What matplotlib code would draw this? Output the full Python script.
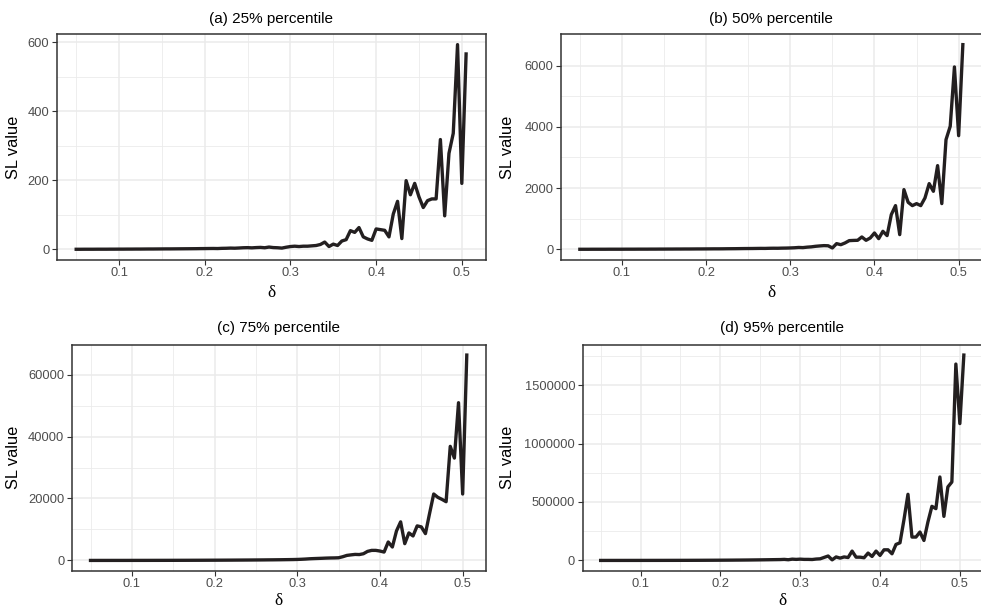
import matplotlib
matplotlib.use("Agg")
import matplotlib.pyplot as plt
import numpy as np

plt.rcParams['font.family'] = ['Liberation Sans', 'DejaVu Sans']

delta = [0.050, 0.055, 0.060, 0.065, 0.070, 0.075, 0.080, 0.085, 0.090, 0.095,
         0.100, 0.105, 0.110, 0.115, 0.120, 0.125, 0.130, 0.135, 0.140, 0.145,
         0.150, 0.155, 0.160, 0.165, 0.170, 0.175, 0.180, 0.185, 0.190, 0.195,
         0.200, 0.205, 0.210, 0.215, 0.220, 0.225, 0.230, 0.235, 0.240, 0.245,
         0.250, 0.255, 0.260, 0.265, 0.270, 0.275, 0.280, 0.285, 0.290, 0.295,
         0.300, 0.305, 0.310, 0.315, 0.320, 0.325, 0.330, 0.335, 0.340, 0.345,
         0.350, 0.355, 0.360, 0.365, 0.370, 0.375, 0.380, 0.385, 0.390, 0.395,
         0.400, 0.405, 0.410, 0.415, 0.420, 0.425, 0.430, 0.435, 0.440, 0.445,
         0.450, 0.455, 0.460, 0.465, 0.470, 0.475, 0.480, 0.485, 0.490, 0.495,
         0.500, 0.505]

sl_p25 = [0.1, 0.1, 0.2, 0.2, 0.2, 0.3, 0.3, 0.3, 0.4, 0.4,
          0.5, 0.5, 0.6, 0.6, 0.7, 0.7, 0.8, 0.9, 0.9, 1.0,
          1.1, 1.2, 1.2, 1.3, 1.4, 1.5, 1.6, 1.7, 1.8, 2.0,
          2.1, 2.3, 2.4, 2.2, 2.8, 3.0, 3.5, 3.2, 3.8, 4.5,
          4.8, 4.2, 5.0, 5.5, 4.5, 6.5, 5.0, 4.5, 3.5, 6.0,
          8, 9, 8, 9, 9, 10, 11, 14, 21, 8,
          15, 11, 24, 28, 54, 49, 63, 36, 30, 26,
          59, 57, 55, 36, 102, 139, 31, 199, 158, 191,
          152, 121, 141, 146, 146, 318, 97, 278, 336, 593,
          191, 566]

sl_p50 = [1, 1, 1, 2, 2, 2, 2, 3, 3, 3,
          3, 4, 4, 4, 5, 5, 5, 6, 6, 7,
          7, 8, 8, 9, 9, 10, 10, 11, 12, 12,
          13, 14, 15, 15, 16, 18, 19, 20, 22, 24,
          25, 26, 28, 30, 29, 33, 35, 34, 38, 40,
          44, 50, 60, 55, 70, 80, 98, 110, 120, 115,
          44, 185, 150, 207, 283, 290, 294, 403, 294, 370,
          533, 348, 588, 447, 1133, 1427, 479, 1950, 1535, 1427,
          1492, 1427, 1677, 2145, 1895, 2734, 1492, 3583, 4019, 5957,
          3713, 6686]

sl_p75 = [5, 6, 7, 8, 9, 10, 11, 12, 13, 14,
          16, 18, 19, 21, 23, 25, 27, 30, 32, 35,
          38, 41, 45, 48, 52, 56, 60, 65, 70, 75,
          80, 86, 92, 98, 105, 112, 120, 128, 136, 145,
          155, 165, 175, 190, 200, 215, 230, 250, 270, 290,
          325, 380, 450, 542, 600, 650, 700, 758, 800, 820,
          867, 1200, 1625, 1800, 1950, 1900, 2167, 2925, 3250, 3250,
          3033, 2708, 5958, 4333, 9533, 12458, 5417, 8883, 7908, 11158,
          10833, 8667, 15167, 21450, 20367, 19717, 18958, 36833, 33042, 50917,
          21450, 66300]

sl_p95 = [100, 120, 130, 150, 170, 190, 210, 230, 260, 290,
          320, 350, 390, 430, 470, 520, 570, 630, 690, 760,
          830, 910, 1000, 1100, 1200, 1300, 1450, 1600, 1750, 1900,
          2100, 2300, 2500, 2700, 3000, 3200, 3500, 3800, 4200, 4600,
          5000, 5500, 6000, 6500, 7000, 7500, 9000, 6000, 11000, 9000,
          11000, 9000, 9000, 8000, 12000, 14000, 26000, 38000, 5000, 30000,
          20000, 30000, 25000, 80000, 28000, 28000, 23000, 63000, 34000, 80000,
          43000, 91000, 91000, 57000, 137000, 151000, 349000, 566000, 200000, 200000,
          243000, 171000, 329000, 463000, 443000, 714000, 377000, 629000, 671000, 1680000,
          1171000, 1757000]

titles = ["(a) 25% percentile", "(b) 50% percentile",
          "(c) 75% percentile", "(d) 95% percentile"]
series = [sl_p25, sl_p50, sl_p75, sl_p95]
yticks = [[0, 200, 400, 600], [0, 2000, 4000, 6000],
          [0, 20000, 40000, 60000], [0, 500000, 1000000, 1500000]]
yminor = [[100, 300, 500], [1000, 3000, 5000],
          [10000, 30000, 50000], [250000, 750000, 1250000, 1750000]]
xticks = [0.1, 0.2, 0.3, 0.4, 0.5]
xminor = [0.05, 0.15, 0.25, 0.35, 0.45]

W, H = 981, 612
fig = plt.figure(figsize=(W / 100, H / 100), dpi=100)

# pixel boxes: left, top, right, bottom
boxes = [(56.7, 34.4, 485.6, 259.5),
         (560.7, 34.4, 982.0, 259.5),
         (71.7, 344.8, 485.6, 570.7),
         (582.5, 344.8, 982.0, 570.7)]
title_base = [22.7, 22.7, 332.0, 332.0]
xlab_y = [292.5, 292.5, 601.0, 601.0]
ylab_x = [13.0, 508.0, 13.0, 508.0]

border = '#333333'
gridc = '#EBEBEB'
linec = '#231F20'

for i in range(4):
    l, t, r, b = boxes[i]
    ax = fig.add_axes([l / W, 1 - b / H, (r - l) / W, (b - t) / H])
    y = np.array(series[i], dtype=float)
    x = np.array(delta)
    ax.plot(x, y, color=linec, lw=2.4, solid_joinstyle='round', zorder=3)
    xr = x.max() - x.min()
    yr = y.max() - y.min()
    ax.set_xlim(x.min() - 0.05 * xr, x.max() + 0.05 * xr)
    ax.set_ylim(y.min() - 0.05 * yr, y.max() + 0.05 * yr)
    ax.set_xticks(xticks)
    ax.set_xticklabels([f"{v:g}" for v in xticks])
    ax.set_yticks(yticks[i])
    ax.set_yticklabels([str(v) for v in yticks[i]])
    ax.set_xticks(xminor, minor=True)
    ax.set_yticks(yminor[i], minor=True)
    ax.grid(True, which='major', color=gridc, lw=1.1, zorder=0)
    ax.grid(True, which='minor', color=gridc, lw=0.6, zorder=0)
    ax.set_axisbelow(True)
    ax.tick_params(which='major', length=3.3, width=0.8, color=border,
                   labelsize=9.3, labelcolor='#4D4D4D', pad=2.0)
    ax.tick_params(which='minor', length=0)
    for s in ax.spines.values():
        s.set_color(border)
        s.set_linewidth(1.1)
    fig.text(((l + r) / 2) / W, 1 - title_base[i] / H, titles[i],
             ha='center', va='baseline', fontsize=11, color='black')
    fig.text(((l + r) / 2) / W, 1 - xlab_y[i] / H, "δ",
             ha='center', va='center', fontsize=12.5, color='black',
             family=['Liberation Serif', 'DejaVu Serif'])
    fig.text(ylab_x[i] / W, 1 - ((t + b) / 2) / H, "SL value",
             ha='center', va='center', rotation=90, fontsize=11.8, color='black')

fig.savefig("out.png", dpi=100, facecolor='white')
